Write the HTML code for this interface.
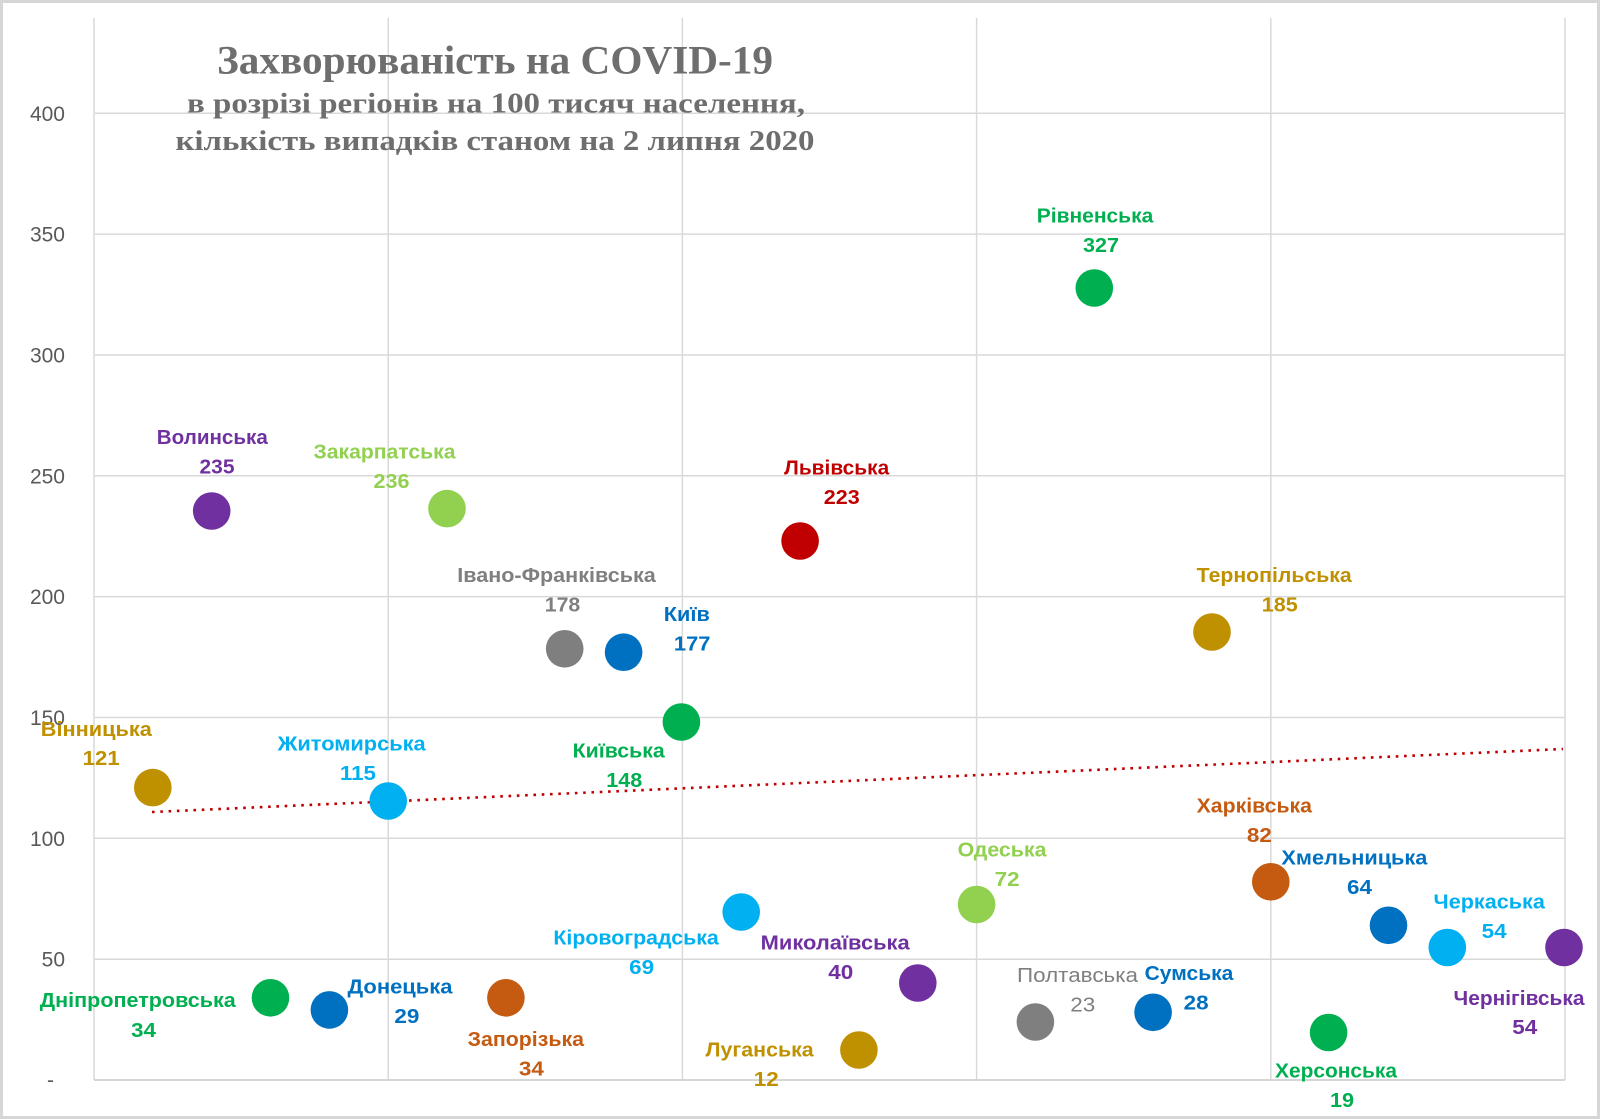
<!DOCTYPE html>
<html><head><meta charset="utf-8"><style>
html,body{margin:0;padding:0;background:#fff;}
svg{display:block;}
.yl{font-family:"Liberation Sans",sans-serif;font-size:21px;fill:#595959;text-anchor:end;}
.lb{font-family:"Liberation Sans","Noto Sans CJK SC",sans-serif;font-size:20px;font-weight:bold;text-anchor:middle;}
.tt{font-family:"Liberation Serif",serif;font-weight:bold;fill:#6e6e6e;text-anchor:middle;}
</style></head><body>
<svg width="1600" height="1120" viewBox="0 0 1600 1120" xmlns="http://www.w3.org/2000/svg">
<rect x="0" y="0" width="1600" height="1120" fill="#fff"/>
<rect x="1.5" y="1.5" width="1597" height="1116" fill="none" stroke="#d6d6d6" stroke-width="3"/>
<!-- gridlines -->
<g stroke="#d9d9d9" stroke-width="1.5" fill="none">
<line x1="94" y1="113.3" x2="1565" y2="113.3"/>
<line x1="94" y1="234.1" x2="1565" y2="234.1"/>
<line x1="94" y1="355" x2="1565" y2="355"/>
<line x1="94" y1="475.8" x2="1565" y2="475.8"/>
<line x1="94" y1="596.6" x2="1565" y2="596.6"/>
<line x1="94" y1="717.5" x2="1565" y2="717.5"/>
<line x1="94" y1="838.3" x2="1565" y2="838.3"/>
<line x1="94" y1="959.2" x2="1565" y2="959.2"/>
<line x1="94" y1="18" x2="94" y2="1080"/>
<line x1="388.2" y1="18" x2="388.2" y2="1080"/>
<line x1="682.4" y1="18" x2="682.4" y2="1080"/>
<line x1="976.6" y1="18" x2="976.6" y2="1080"/>
<line x1="1270.8" y1="18" x2="1270.8" y2="1080"/>
<line x1="1565" y1="18" x2="1565" y2="1080"/>
</g>
<line x1="94" y1="1080" x2="1565" y2="1080" stroke="#d0d0d0" stroke-width="1.8"/>
<!-- y labels -->
<text class="yl" x="65" y="120.8">400</text>
<text class="yl" x="65" y="241.6">350</text>
<text class="yl" x="65" y="362.5">300</text>
<text class="yl" x="65" y="483.3">250</text>
<text class="yl" x="65" y="604.1">200</text>
<text class="yl" x="65" y="725">150</text>
<text class="yl" x="65" y="845.8">100</text>
<text class="yl" x="65" y="966.7">50</text>
<text class="yl" x="54" y="1087">-</text>
<!-- title -->
<text class="tt" x="495" y="73.3" font-size="40" textLength="556" lengthAdjust="spacingAndGlyphs">Захворюваність на COVID-19</text>
<text class="tt" x="496" y="112.7" font-size="29" textLength="618" lengthAdjust="spacingAndGlyphs">в розрізі регіонів на 100 тисяч населення,</text>
<text class="tt" x="495" y="150" font-size="29" textLength="639" lengthAdjust="spacingAndGlyphs">кількість випадків станом на 2 липня 2020</text>
<!-- trendline -->
<line x1="152" y1="812" x2="1563" y2="749" stroke="#C00000" stroke-width="2.6" stroke-dasharray="2.6 5.7"/>
<!-- dots -->
<g>
<circle cx="152.8" cy="787.6" r="18.8" fill="#BF9000"/>
<circle cx="211.7" cy="511" r="18.8" fill="#7030A0"/>
<circle cx="270.5" cy="997.8" r="18.8" fill="#00B050"/>
<circle cx="329.4" cy="1009.9" r="18.8" fill="#0070C0"/>
<circle cx="388.2" cy="801" r="18.8" fill="#00B0F0"/>
<circle cx="447" cy="508.6" r="18.8" fill="#92D050"/>
<circle cx="505.9" cy="997.8" r="18.8" fill="#C55A11"/>
<circle cx="564.7" cy="648.8" r="18.8" fill="#7F7F7F"/>
<circle cx="623.6" cy="652.2" r="18.8" fill="#0070C0"/>
<circle cx="681.4" cy="722" r="18.8" fill="#00B050"/>
<circle cx="741.2" cy="912" r="18.8" fill="#00B0F0"/>
<circle cx="800.1" cy="541" r="18.8" fill="#C00000"/>
<circle cx="858.9" cy="1050" r="18.8" fill="#BF9000"/>
<circle cx="917.8" cy="983" r="18.8" fill="#7030A0"/>
<circle cx="976.6" cy="904.5" r="18.8" fill="#92D050"/>
<circle cx="1035.4" cy="1022" r="18.8" fill="#7F7F7F"/>
<circle cx="1094.3" cy="288" r="18.8" fill="#00B050"/>
<circle cx="1153.1" cy="1012.3" r="18.8" fill="#0070C0"/>
<circle cx="1212" cy="632" r="18.8" fill="#BF9000"/>
<circle cx="1270.8" cy="881.8" r="18.8" fill="#C55A11"/>
<circle cx="1328.6" cy="1032.5" r="18.8" fill="#00B050"/>
<circle cx="1388.5" cy="925.3" r="18.8" fill="#0070C0"/>
<circle cx="1447.3" cy="947.5" r="18.8" fill="#00B0F0"/>
<circle cx="1564" cy="947.5" r="18.8" fill="#7030A0"/>
</g>
<!-- labels -->
<g class="lb">
<text x="212.3" y="444" fill="#7030A0" textLength="111" lengthAdjust="spacingAndGlyphs">Волинська</text>
<text x="217" y="473.4" fill="#7030A0" textLength="35" lengthAdjust="spacingAndGlyphs">235</text>

<text x="384.5" y="458.3" fill="#92D050" font-weight="600" textLength="142" lengthAdjust="spacingAndGlyphs">Закарпатська</text>
<text x="391.5" y="488.2" fill="#92D050" textLength="36" lengthAdjust="spacingAndGlyphs">236</text>

<text x="836.7" y="474.6" fill="#C00000" textLength="105" lengthAdjust="spacingAndGlyphs">Львівська</text>
<text x="841.8" y="504.2" fill="#C00000" textLength="36" lengthAdjust="spacingAndGlyphs">223</text>

<text x="556.5" y="582.2" fill="#7F7F7F" textLength="198.5" lengthAdjust="spacingAndGlyphs">Івано-Франківська</text>
<text x="562.5" y="611.5" fill="#7F7F7F" textLength="35.5" lengthAdjust="spacingAndGlyphs">178</text>

<text x="686.8" y="621" fill="#0070C0" textLength="46" lengthAdjust="spacingAndGlyphs">Київ</text>
<text x="692.2" y="650.4" fill="#0070C0" textLength="36.5" lengthAdjust="spacingAndGlyphs">177</text>

<text x="618.7" y="757.4" fill="#00B050" textLength="92" lengthAdjust="spacingAndGlyphs">Київська</text>
<text x="624.3" y="787" fill="#00B050" textLength="36" lengthAdjust="spacingAndGlyphs">148</text>

<text x="1095" y="222.3" fill="#00B050" textLength="116.5" lengthAdjust="spacingAndGlyphs">Рівненська</text>
<text x="1101" y="252.2" fill="#00B050" textLength="36" lengthAdjust="spacingAndGlyphs">327</text>

<text x="1274.2" y="581.8" fill="#BF9000" textLength="155" lengthAdjust="spacingAndGlyphs">Тернопільська</text>
<text x="1279.8" y="611.4" fill="#BF9000" textLength="36" lengthAdjust="spacingAndGlyphs">185</text>

<text x="96.3" y="735.8" fill="#BF9000" textLength="111" lengthAdjust="spacingAndGlyphs">Вінницька</text>
<text x="101.2" y="765.2" fill="#BF9000" textLength="37" lengthAdjust="spacingAndGlyphs">121</text>

<text x="351.7" y="750.3" fill="#00B0F0" textLength="148" lengthAdjust="spacingAndGlyphs">Житомирська</text>
<text x="357.9" y="779.9" fill="#00B0F0" textLength="36" lengthAdjust="spacingAndGlyphs">115</text>

<text x="1254.3" y="812.6" fill="#C55A11" textLength="115.4" lengthAdjust="spacingAndGlyphs">Харківська</text>
<text x="1259.4" y="842.2" fill="#C55A11" textLength="25" lengthAdjust="spacingAndGlyphs">82</text>

<text x="1354.4" y="864.6" fill="#0070C0" textLength="146" lengthAdjust="spacingAndGlyphs">Хмельницька</text>
<text x="1359.5" y="894.2" fill="#0070C0" textLength="25" lengthAdjust="spacingAndGlyphs">64</text>

<text x="1489.2" y="908.5" fill="#00B0F0" textLength="111.3" lengthAdjust="spacingAndGlyphs">Черкаська</text>
<text x="1494.2" y="938.2" fill="#00B0F0" textLength="25" lengthAdjust="spacingAndGlyphs">54</text>

<text x="1519" y="1004.8" fill="#7030A0" textLength="131" lengthAdjust="spacingAndGlyphs">Чернігівська</text>
<text x="1524.8" y="1034.1" fill="#7030A0" textLength="25" lengthAdjust="spacingAndGlyphs">54</text>

<text x="1002.1" y="856.5" fill="#92D050" font-weight="600" textLength="88.8" lengthAdjust="spacingAndGlyphs">Одеська</text>
<text x="1007.2" y="886" fill="#92D050" textLength="25" lengthAdjust="spacingAndGlyphs">72</text>

<text x="636.1" y="944.3" fill="#00B0F0" font-weight="600" textLength="165.4" lengthAdjust="spacingAndGlyphs">Кіровоградська</text>
<text x="641.7" y="973.9" fill="#00B0F0" textLength="25" lengthAdjust="spacingAndGlyphs">69</text>

<text x="835.2" y="949.4" fill="#7030A0" textLength="149" lengthAdjust="spacingAndGlyphs">Миколаївська</text>
<text x="840.8" y="979" fill="#7030A0" textLength="25" lengthAdjust="spacingAndGlyphs">40</text>

<text x="137.8" y="1007" fill="#00B050" textLength="196" lengthAdjust="spacingAndGlyphs">Дніпропетровська</text>
<text x="143.5" y="1037" fill="#00B050" textLength="25" lengthAdjust="spacingAndGlyphs">34</text>

<text x="400" y="993.5" fill="#0070C0" textLength="105" lengthAdjust="spacingAndGlyphs">Донецька</text>
<text x="406.9" y="1023" fill="#0070C0" textLength="25" lengthAdjust="spacingAndGlyphs">29</text>

<text x="525.8" y="1045.8" fill="#C55A11" textLength="116.4" lengthAdjust="spacingAndGlyphs">Запорізька</text>
<text x="531.4" y="1075.5" fill="#C55A11" textLength="25" lengthAdjust="spacingAndGlyphs">34</text>

<text x="759.6" y="1056.6" fill="#BF9000" textLength="108.2" lengthAdjust="spacingAndGlyphs">Луганська</text>
<text x="766.3" y="1086.2" fill="#BF9000" textLength="25" lengthAdjust="spacingAndGlyphs">12</text>

<text x="1077.5" y="981.8" fill="#7F7F7F" font-weight="normal" textLength="121" lengthAdjust="spacingAndGlyphs">Полтавська</text>
<text x="1082.8" y="1011.7" fill="#7F7F7F" font-weight="normal" textLength="25" lengthAdjust="spacingAndGlyphs">23</text>

<text x="1189" y="980" fill="#0070C0" textLength="88.8" lengthAdjust="spacingAndGlyphs">Сумська</text>
<text x="1196.1" y="1009.6" fill="#0070C0" textLength="25" lengthAdjust="spacingAndGlyphs">28</text>

<text x="1336" y="1077.5" fill="#00B050" textLength="122" lengthAdjust="spacingAndGlyphs">Херсонська</text>
<text x="1342" y="1106.8" fill="#00B050" textLength="24" lengthAdjust="spacingAndGlyphs">19</text>
</g>
</svg>
</body></html>
